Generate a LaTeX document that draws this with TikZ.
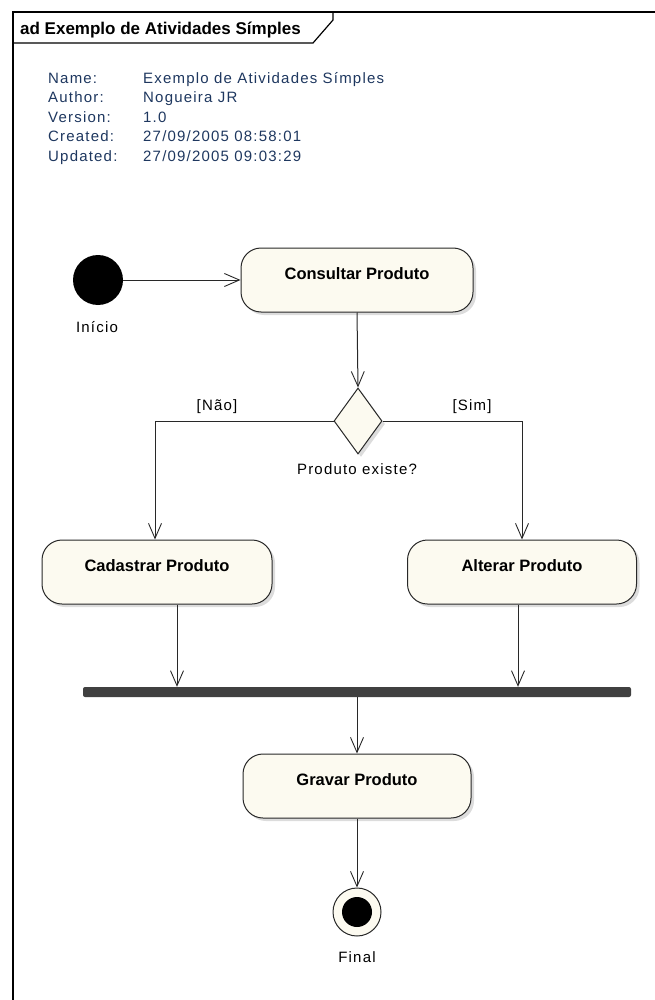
\documentclass[tikz,border=0pt]{standalone}
\usepackage{fontspec}
\setmainfont{Liberation Sans}
\newfontfamily\wideface[LetterSpace=8]{Liberation Sans}
\usetikzlibrary{arrows.meta,shapes.geometric,shadows,calc}
\definecolor{actfill}{RGB}{252,250,240}
\definecolor{hdrblue}{RGB}{30,55,95}
\definecolor{barcol}{RGB}{64,64,64}
\definecolor{shade}{RGB}{185,185,185}
\definecolor{edge}{RGB}{40,40,40}

\begin{document}
\begin{tikzpicture}[x=1pt,y=-1pt,
  flow/.style={draw=edge, line width=1pt,
    -{Straight Barb[length=15pt,width=13pt,line width=0.9pt]}},
  action/.style={draw=edge, line width=1pt, fill=actfill,
    rounded corners=20pt, inner sep=0pt, minimum height=64pt,
    font=\bfseries\fontsize{16.5}{18}\selectfont,
    text height=12pt, text depth=14pt,
    drop shadow={shadow xshift=3pt, shadow yshift=-3pt, fill=shade}},
  hdr/.style={anchor=base west, inner sep=0pt, text=hdrblue,
    font=\wideface\fontsize{15}{17}\selectfont},
  lbl/.style={inner sep=0pt, font=\wideface\fontsize{15}{17}\selectfont},
]
\useasboundingbox (0,0) rectangle (655,1000);

% diagram frame with name tab
\draw[line width=1.5pt] (655,12) -- (13,12) -- (13,1000);
\draw[line width=1.2pt] (13,43) -- (313,43) -- (333,20) -- (333,12);
\node[anchor=base west, inner sep=0pt, font=\bfseries\fontsize{17}{19}\selectfont]
  (title) at (20,35) {ad Exemplo de Atividades Símples};

% header notes
\node[hdr] (kname) at (48,83.5)  {Name:};
\node[hdr] (kauth) at (48,103)   {Author:};
\node[hdr] (kvers) at (48,122.5) {Version:};
\node[hdr] (kcrea) at (48,142)   {Created:};
\node[hdr] (kupd)  at (48,161.5) {Updated:};
\node[hdr] (vname) at (143,83.5)  {Exemplo de Atividades Símples};
\node[hdr] (vauth) at (143,103)   {Nogueira JR};
\node[hdr] (vvers) at (143,122.5) {1.0};
\node[hdr] (vcrea) at (143,142)   {27/09/2005 08:58:01};
\node[hdr] (vupd)  at (143,161.5) {27/09/2005 09:03:29};

% activity nodes
\node[circle, fill=black, minimum size=50pt, inner sep=0pt] (init) at (98,280) {};
\node[lbl] (initlbl) at (97,327) {Início};

\node[action, minimum width=232pt] (consultar) at (357,280) {Consultar Produto};

\node[diamond, draw=edge, line width=1pt, fill=actfill, inner sep=0pt,
  minimum width=48pt, minimum height=66pt,
  drop shadow={shadow xshift=3pt, shadow yshift=-3pt, fill=shade}] (dec) at (358,421) {};
\node[lbl] (nao) at (217,407) {[Não]};
\node[lbl] (sim) at (472,407) {[Sim]};
\node[lbl] (declbl) at (357,469) {Produto existe?};

\node[action, minimum width=230pt] (cadastrar) at (157,572) {Cadastrar Produto};
\node[action, minimum width=229pt] (alterar) at (522,572) {Alterar Produto};

\node[fill=barcol, rounded corners=2pt, minimum width=548pt, minimum height=10pt,
  inner sep=0pt] (bar) at (357,692) {};

\node[action, minimum width=228pt] (gravar) at (357,786) {Gravar Produto};

\node[circle, draw=edge, line width=1pt, fill=actfill, minimum size=48pt, inner sep=0pt]
  (final) at (357,912) {};
\node[circle, fill=black, minimum size=30pt, inner sep=0pt] (finaldot) at (final) {};
\node[lbl] (finallbl) at (357,957) {Final};

% control flow
\draw[flow] (init) -- (consultar.west);
\draw[flow] (consultar.south) -- (dec.north);
\draw[flow] (dec.west) -| ([xshift=-2pt]cadastrar.north);
\draw[flow] (dec.east) -| (alterar.north);
\draw[flow] ([xshift=20pt]cadastrar.south) -- ([xshift=20pt]cadastrar.south |- bar.north);
\draw[flow] ([xshift=-4pt]alterar.south) -- ([xshift=-4pt]alterar.south |- bar.north);
\draw[flow] (bar.south) -- (gravar.north);
\draw[flow] (gravar.south) -- (final.north);
\end{tikzpicture}
\end{document}
